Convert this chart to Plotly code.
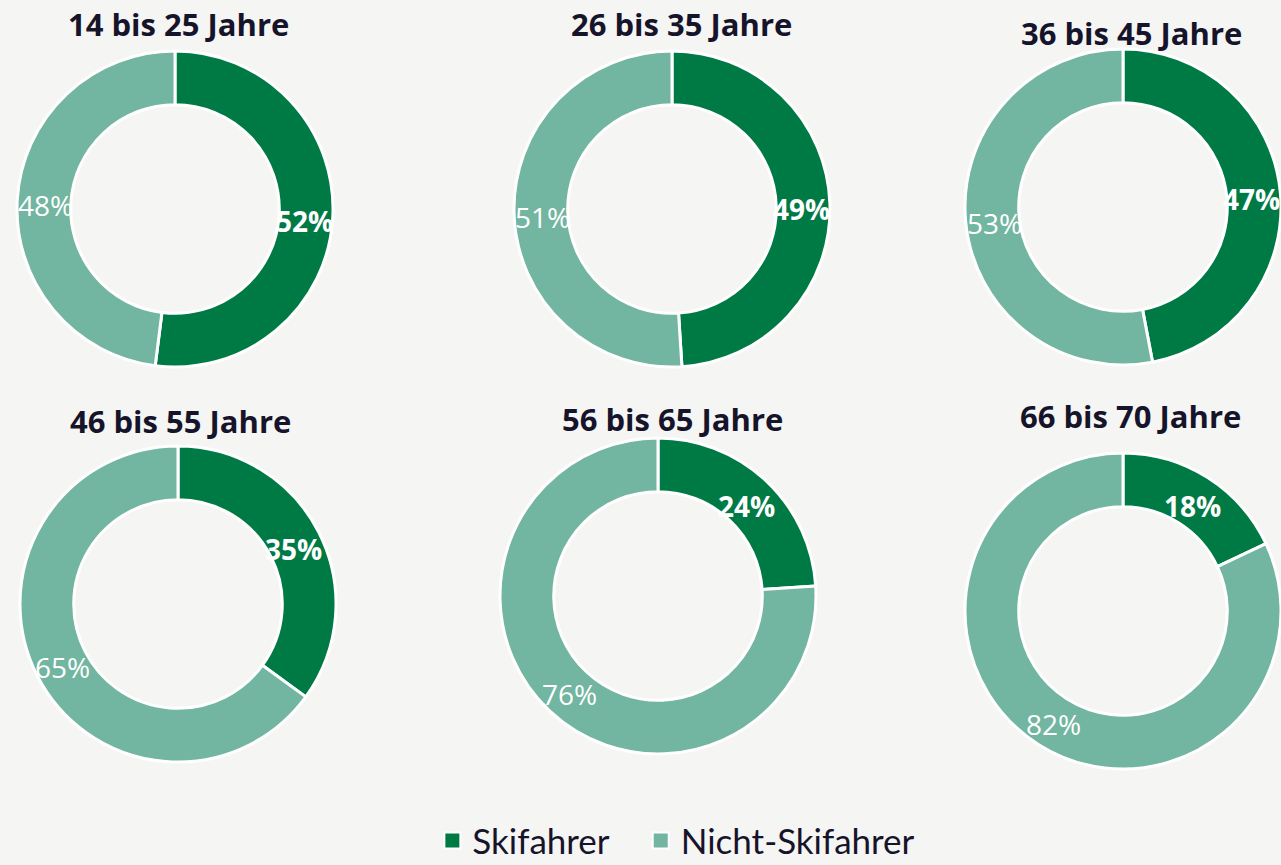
import math
import plotly.graph_objects as go

W, H = 1281, 865

age_groups = ["14 bis 25 Jahre", "26 bis 35 Jahre", "36 bis 45 Jahre",
              "46 bis 55 Jahre", "56 bis 65 Jahre", "66 bis 70 Jahre"]
categories = ["Skifahrer", "Nicht-Skifahrer"]
skifahrer = [52, 49, 47, 35, 24, 18]
nicht_skifahrer = [48, 51, 53, 65, 76, 82]

colors = ["#007A45", "#72B5A0"]
bg = "#F5F5F3"
title_color = "#16142A"

# layout (pixel) of each donut: centre x, centre y, title position
centers = [(175, 209), (672, 209), (1123, 207),
           (178, 604), (658, 596), (1123, 611)]
title_pos = [(179, 24), (681, 24), (1131, 33),
             (180, 421), (672, 419), (1130, 416)]
R = 158          # domain half-size in px
R_ring = 156     # drawn outer radius
hole = 0.66

fig = go.Figure()
annotations = []
for i, grp in enumerate(age_groups):
    cx, cy = centers[i]
    vals = [skifahrer[i], nicht_skifahrer[i]]
    fig.add_trace(go.Pie(
        labels=categories, values=vals, hole=hole, sort=False,
        direction="clockwise", rotation=0,
        marker=dict(colors=colors, line=dict(color="white", width=3)),
        textinfo="none", showlegend=False, name=grp,
        domain=dict(x=[(cx - R) / W, min(1, (cx + R) / W)],
                    y=[1 - (cy + R) / H, 1 - (cy - R) / H]),
    ))
    total = sum(vals)
    start = 0.0
    rmid = R_ring * (1 + hole) / 2
    for j, v in enumerate(vals):
        mid = (start + v / 2) / total * 2 * math.pi
        start += v
        px = cx + rmid * math.sin(mid)
        py = cy - rmid * math.cos(mid)
        txt = f"{v}%"
        annotations.append(dict(
            x=px / W, y=1 - py / H, xref="paper", yref="paper", yshift=-4,
            text=f"<b>{txt}</b>" if j == 0 else txt, showarrow=False,
            font=dict(family="Open Sans", size=28, color="white"),
            xanchor="center", yanchor="middle"))
    tx, ty = title_pos[i]
    annotations.append(dict(
        x=tx / W, y=1 - ty / H, xref="paper", yref="paper",
        text=f"<b>{grp}</b>", showarrow=False,
        font=dict(family="Open Sans", size=31, color=title_color),
        xanchor="center", yanchor="middle"))

# legend entries (non-breaking spaces widen the first entry's spacing)
legend_names = ["Skifahrer\u00a0\u00a0\u00a0", "Nicht-Skifahrer"]
for name, col in zip(legend_names, colors):
    fig.add_trace(go.Scatter(
        x=[None], y=[None], mode="markers", name=name,
        marker=dict(symbol="square", size=16, color=col,
                    line=dict(color="white", width=2)),
        showlegend=True, hoverinfo="skip"))

fig.update_layout(
    width=W, height=H, autosize=False,
    margin=dict(l=0, r=0, t=0, b=0, autoexpand=False),
    paper_bgcolor=bg, plot_bgcolor=bg,
    annotations=annotations,
    xaxis=dict(visible=False), yaxis=dict(visible=False),
    legend=dict(orientation="h", x=0.528, xanchor="center", y=0.028,
                yanchor="middle", itemsizing="trace",
                font=dict(family="Lato", size=35, color=title_color),
                bgcolor="rgba(0,0,0,0)"),
)

fig.write_html("out.html",
               config={"displayModeBar": False, "responsive": False},
               post_script="document.body.style.margin='0';"
                           "document.body.style.overflow='hidden';")
